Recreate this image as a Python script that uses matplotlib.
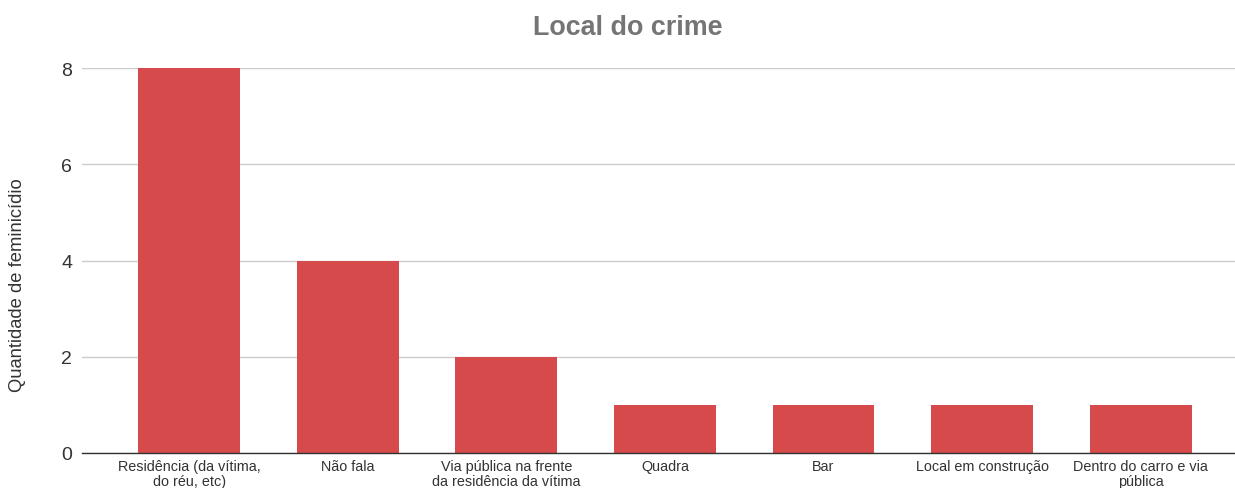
import matplotlib
matplotlib.use("Agg")
import matplotlib.pyplot as plt

categories = [
    "Residência (da vítima,\ndo réu, etc)",
    "Não fala",
    "Via pública na frente\nda residência da vítima",
    "Quadra",
    "Bar",
    "Local em construção",
    "Dentro do carro e via\npública",
]
values = [8, 4, 2, 1, 1, 1, 1]
yticks = [0, 2, 4, 6, 8]

plt.rcParams["font.family"] = ["Liberation Sans", "DejaVu Sans"]

fig = plt.figure(figsize=(12.35, 4.89), dpi=100)
ax = fig.add_axes([82 / 1235, 35 / 489, 1 - 82 / 1235, (454 - 69) / 489])

x = range(len(categories))
ax.bar(x, values, width=0.643, color="#d64a4b", zorder=3)

ax.set_xlim(-0.676, 6.595)
ax.set_ylim(0, 8)
ax.set_yticks(yticks)
ax.set_xticks(list(x))
ax.set_xticklabels(categories, fontsize=10.4, color="#333333", linespacing=1.15)
ax.tick_params(axis="y", labelsize=14, colors="#333333", length=0, pad=7)
ax.tick_params(axis="x", length=0, pad=4)

ax.grid(axis="y", color="#cccccc", linewidth=1, zorder=0)
for s in ["top", "right", "left"]:
    ax.spines[s].set_visible(False)
ax.spines["bottom"].set_color("#333333")
ax.spines["bottom"].set_linewidth(1)
ax.spines["bottom"].set_zorder(4)

fig.text(18 / 1235, 1 - 285 / 489, "Quantidade de feminicídio", rotation=90,
         ha="center", va="center", fontsize=13.2, color="#333333")
fig.text(628 / 1235, 1 - 28 / 489, "Local do crime", ha="center", va="center",
         fontsize=19.4, fontweight="bold", color="#757575")

fig.savefig("out.png", dpi=100)
